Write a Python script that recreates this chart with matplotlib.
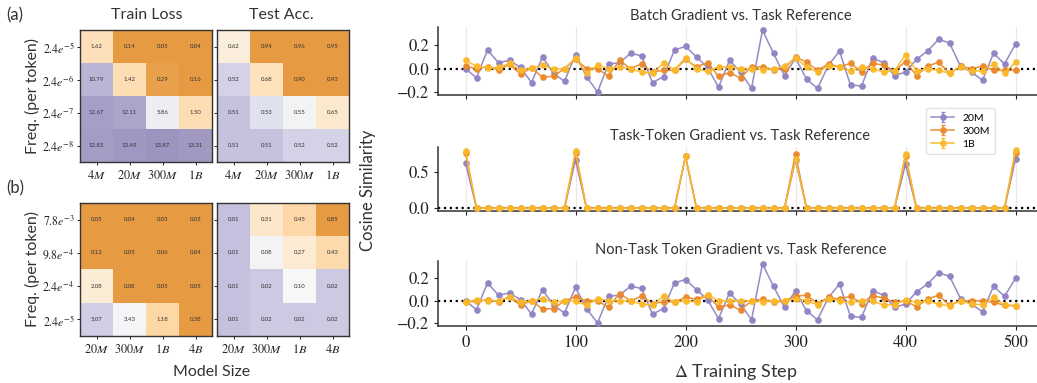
import numpy as np
import matplotlib
matplotlib.use('Agg')
import matplotlib.pyplot as plt
from matplotlib.colors import ListedColormap, TwoSlopeNorm

plt.rcParams['font.family'] = ['Lato', 'DejaVu Sans']
plt.rcParams['mathtext.fontset'] = 'stix'

# heatmaps: rows are token frequencies, columns are model sizes
sizes_a = ['4M', '20M', '300M', '1B']
freqs_a = ['2.4e^{-5}', '2.4e^{-6}', '2.4e^{-7}', '2.4e^{-8}']
loss_a = np.array([[1.62, 0.14, 0.05, 0.04],
                   [10.79, 1.42, 0.29, 0.16],
                   [12.67, 12.11, 5.86, 1.50],
                   [12.83, 13.49, 13.87, 13.31]])
acc_a = np.array([[0.62, 0.94, 0.96, 0.95],
                  [0.52, 0.68, 0.90, 0.93],
                  [0.51, 0.53, 0.55, 0.65],
                  [0.51, 0.51, 0.52, 0.52]])

sizes_b = ['20M', '300M', '1B', '4B']
freqs_b = ['7.8e^{-3}', '9.8e^{-4}', '2.4e^{-4}', '2.4e^{-5}']
loss_b = np.array([[0.05, 0.04, 0.03, 0.03],
                   [0.12, 0.05, 0.06, 0.04],
                   [2.08, 0.08, 0.05, 0.05],
                   [5.07, 3.43, 1.18, 0.38]])
acc_b = np.array([[0.01, 0.31, 0.45, 0.85],
                  [0.01, 0.08, 0.27, 0.43],
                  [0.01, 0.02, 0.10, 0.02],
                  [0.01, 0.02, 0.02, 0.02]])

# gradient cosine similarity every 10 steps
steps = np.arange(0, 501, 10)
models = ['20M', '300M', '1B']
colors = ['#9184c3', '#ea8a2c', '#fbb92b']

batch_20m = [0.0, -0.08, 0.16, 0.05, 0.07, 0.01, -0.12, 0.10, -0.04, -0.11,
             0.12, -0.07, -0.20, 0.04, 0.05, 0.13, 0.11, -0.12, -0.07, 0.16,
             0.19, 0.10, 0.01, -0.16, 0.07, -0.03, -0.17, 0.33, 0.13, -0.06,
             0.09, -0.09, -0.17, 0.03, 0.15, -0.14, -0.15, 0.09, 0.05, -0.06,
             -0.03, 0.08, 0.15, 0.25, 0.22, 0.02, -0.03, -0.10, 0.13, 0.04,
             0.21]
batch_300m = [0.02, 0.0, 0.015, -0.01, 0.035, -0.045, 0.005, -0.075, -0.065, 0.0,
              0.08, 0.0, 0.0, -0.065, 0.07, 0.0, 0.04, -0.03, -0.015, -0.015,
              0.08, 0.015, 0.05, -0.065, -0.035, -0.08, 0.015, 0.015, -0.01, 0.0,
              0.10, 0.055, -0.015, 0.04, 0.015, 0.045, -0.03, 0.045, 0.03, -0.02,
              0.06, -0.06, 0.02, 0.055, -0.04, 0.02, 0.0, 0.02, -0.015, -0.015,
              -0.015]
batch_1b = [0.07, 0.02, 0.005, 0.01, 0.045, -0.015, 0.005, 0.03, -0.005, 0.0,
            0.09, -0.04, 0.03, 0.0, 0.015, 0.0, -0.03, -0.04, 0.045, -0.01,
            0.09, 0.0, -0.025, 0.015, 0.015, 0.0, 0.0, -0.01, 0.0, 0.02,
            0.09, 0.015, -0.03, 0.025, 0.015, -0.02, 0.015, 0.0, -0.03, -0.02,
            0.12, -0.02, 0.0, -0.015, -0.04, 0.015, -0.02, -0.02, 0.04, -0.04,
            0.055]

task_20m = [0.63, 0, 0, 0, 0, 0, 0, 0, 0, 0,
            0.67, 0, 0, 0, 0, 0, 0, 0, 0, 0,
            0.72, 0, 0, 0, 0, 0, 0, 0, 0, 0,
            0.67, 0, 0, 0, 0, 0, 0, 0, 0, 0,
            0.61, 0, 0, 0, 0, 0, 0, 0, 0, 0,
            0.68]
task_300m = [0.77, 0, 0, 0, 0, 0, 0, 0, 0, 0,
             0.77, 0, 0, 0, 0, 0, 0, 0, 0, 0,
             0.72, 0, 0, 0, 0, 0, 0, 0, 0, 0,
             0.76, 0, 0, 0, 0, 0, 0, 0, 0, 0,
             0.73, 0, 0, 0, 0, 0, 0, 0, 0, 0,
             0.77]
task_1b = [0.80, 0, 0, 0, 0, 0, 0, 0, 0, 0,
           0.79, 0, 0, 0, 0, 0, 0, 0, 0, 0,
           0.72, 0, 0, 0, 0, 0, 0, 0, 0, 0,
           0.68, 0, 0, 0, 0, 0, 0, 0, 0, 0,
           0.75, 0, 0, 0, 0, 0, 0, 0, 0, 0,
           0.81]

nontask_20m = [0.0, -0.08, 0.16, 0.05, 0.07, 0.01, -0.12, 0.10, -0.04, -0.11,
               0.12, -0.07, -0.20, 0.04, 0.05, 0.13, 0.11, -0.12, -0.07, 0.16,
               0.19, 0.10, 0.01, -0.16, 0.07, -0.03, -0.17, 0.33, 0.13, -0.06,
               0.09, -0.09, -0.17, 0.03, 0.15, -0.14, -0.15, 0.09, 0.05, -0.06,
               -0.03, 0.08, 0.15, 0.25, 0.22, 0.02, -0.03, -0.10, 0.13, 0.04,
               0.20]
nontask_300m = [-0.01, -0.005, 0.01, -0.01, 0.035, -0.04, 0.0, -0.075, -0.07, 0.0,
                0.035, 0.0, 0.0, -0.06, 0.065, 0.0, 0.04, -0.025, -0.01, -0.01,
                0.03, 0.015, 0.05, -0.06, -0.035, -0.085, 0.0, 0.015, -0.015, 0.0,
                0.04, 0.05, -0.025, 0.03, 0.015, 0.04, -0.025, 0.045, 0.025, -0.015,
                0.0, -0.055, 0.015, 0.05, -0.04, 0.0, 0.0, 0.0, -0.015, -0.04,
                -0.045]
nontask_1b = [-0.015, 0.01, 0.0, 0.0, 0.035, -0.015, 0.0, 0.02, -0.015, 0.0,
              -0.005, -0.04, 0.02, 0.0, 0.0, 0.0, -0.03, -0.04, 0.04, -0.01,
              0.0, -0.01, 0.055, 0.0, 0.0, 0.0, 0.0, -0.01, 0.0, 0.0,
              0.02, 0.0, -0.035, 0.02, 0.0, -0.015, 0.0, 0.0, -0.04, -0.035,
              0.01, -0.015, 0.0, -0.03, -0.045, 0.0, -0.03, -0.035, 0.035, -0.04,
              -0.045]

W, H = 1037, 383


def box(x0, y0, x1, y1):
    # pixel box (top-left origin) -> figure fraction rect
    return [x0 / W, 1 - y1 / H, (x1 - x0) / W, (y1 - y0) / H]


base = plt.cm.PuOr(np.linspace(0.2, 0.8, 256))
loss_cmap = ListedColormap(base)        # low loss -> orange
acc_cmap = ListedColormap(base[::-1])   # high accuracy -> orange


def heatmap(ax, vals, norm, cmap, xlabels, ylabels=None, log=False):
    shown = np.log10(vals) if log else vals
    ax.imshow(shown, cmap=cmap, norm=norm, alpha=0.8, aspect='auto')
    for i in range(vals.shape[0]):
        for j in range(vals.shape[1]):
            ax.text(j, i, f'{vals[i, j]:.2f}', ha='center', va='center',
                    fontsize=4.3, color='#333333')
    ax.set_xticks(range(len(xlabels)))
    ax.set_xticklabels([f'${s}$' for s in xlabels], fontsize=8.8)
    ax.set_yticks(range(vals.shape[0]))
    if ylabels is not None:
        ax.set_yticklabels([f'${s}$' for s in ylabels], fontsize=8.5)
    else:
        ax.set_yticklabels([])
    ax.tick_params(length=2, width=0.7, pad=2, colors='#222222')
    for s in ax.spines.values():
        s.set_color('#333333')
        s.set_linewidth(1.0)


def gradient_panel(ax, series, title, yticks, bottom=False):
    for vals, lab, col in zip(series, models, colors):
        ax.errorbar(steps, vals, yerr=0, color=col, marker='o', ms=3.8,
                    lw=1.1, capsize=1.5, label=lab, alpha=0.95, zorder=3)
    ax.axhline(0, color='black', ls=':', lw=1.6, zorder=2)
    ax.set_xlim(-25, 525)
    ax.set_xticks(range(0, 501, 100))
    ax.set_yticks(yticks)
    ax.set_yticklabels([f'{t:.1f}'.replace('-', '\u2212') for t in yticks])
    ax.grid(axis='x', color='#e8e8e8', lw=0.9)
    ax.set_axisbelow(True)
    for side in ['top', 'right']:
        ax.spines[side].set_visible(False)
    for side in ['left', 'bottom']:
        ax.spines[side].set_color('#333333')
        ax.spines[side].set_linewidth(1.1)
    ax.tick_params(length=3, width=0.8, labelsize=12, labelfontfamily='STIXGeneral',
                   labelbottom=bottom, colors='#222222')
    ax.set_title(title, fontsize=10.5, color='#333333', pad=5)


fig = plt.figure(figsize=(W / 100, H / 100), dpi=100)

ax_la = fig.add_axes(box(80, 30, 212, 162))
ax_aa = fig.add_axes(box(217, 30, 349, 162))
ax_lb = fig.add_axes(box(80, 203, 212, 336))
ax_ab = fig.add_axes(box(217, 203, 349, 336))

heatmap(ax_la, loss_a, TwoSlopeNorm(np.log10(5.0), np.log10(0.25), np.log10(14.5)),
        loss_cmap, sizes_a, freqs_a, log=True)
heatmap(ax_aa, acc_a, TwoSlopeNorm(0.555, 0.48, 0.9), acc_cmap, sizes_a)
heatmap(ax_lb, loss_b, TwoSlopeNorm(np.log10(3.3), np.log10(0.4), np.log10(8.0)),
        loss_cmap, sizes_b, freqs_b, log=True)
heatmap(ax_ab, acc_b, TwoSlopeNorm(0.09, -0.04, 0.85), acc_cmap, sizes_b)

fig.text(147 / W, 1 - 15 / H, 'Train Loss', ha='center', va='center', fontsize=11.5, color='#333333')
fig.text(281 / W, 1 - 15 / H, 'Test Acc.', ha='center', va='center', fontsize=11.5, color='#333333')
fig.text(6 / W, 1 - 15 / H, '(a)', ha='left', va='center', fontsize=12, color='#333333')
fig.text(6 / W, 1 - 188 / H, '(b)', ha='left', va='center', fontsize=12, color='#333333')
fig.text(32 / W, 1 - 96 / H, 'Freq. (per token)', rotation=90, ha='center', va='center',
         fontsize=11.5, color='#333333')
fig.text(32 / W, 1 - 269 / H, 'Freq. (per token)', rotation=90, ha='center', va='center',
         fontsize=11.5, color='#333333')
fig.text(212 / W, 1 - 372 / H, 'Model Size', ha='center', va='center', fontsize=11.5, color='#333333')

ax1 = fig.add_axes(box(438, 27, 1043, 95))
ax2 = fig.add_axes(box(438, 147, 1043, 211))
ax3 = fig.add_axes(box(438, 261, 1043, 326))

gradient_panel(ax1, [batch_20m, batch_300m, batch_1b],
               'Batch Gradient vs. Task Reference', [-0.2, 0.0, 0.2])
gradient_panel(ax2, [task_20m, task_300m, task_1b],
               'Task-Token Gradient vs. Task Reference', [0.0, 0.5])
gradient_panel(ax3, [nontask_20m, nontask_300m, nontask_1b],
               'Non-Task Token Gradient vs. Task Reference', [-0.2, 0.0, 0.2], bottom=True)

handles, labels = ax2.get_legend_handles_labels()
fig.legend(handles, labels, loc='upper left', bbox_to_anchor=(921 / W, 1 - 103 / H),
           fontsize=7.5, frameon=True, edgecolor='#dddddd', borderpad=0.5,
           handlelength=2.2, labelspacing=0.35)

fig.text(368 / W, 1 - 190 / H, 'Cosine Similarity', rotation=90, ha='center', va='center',
         fontsize=12, color='#333333')
fig.text(736 / W, 1 - 372 / H, r'$\Delta$ Training Step', ha='center', va='center',
         fontsize=13, color='#333333')

fig.savefig('out.png', dpi=100)
